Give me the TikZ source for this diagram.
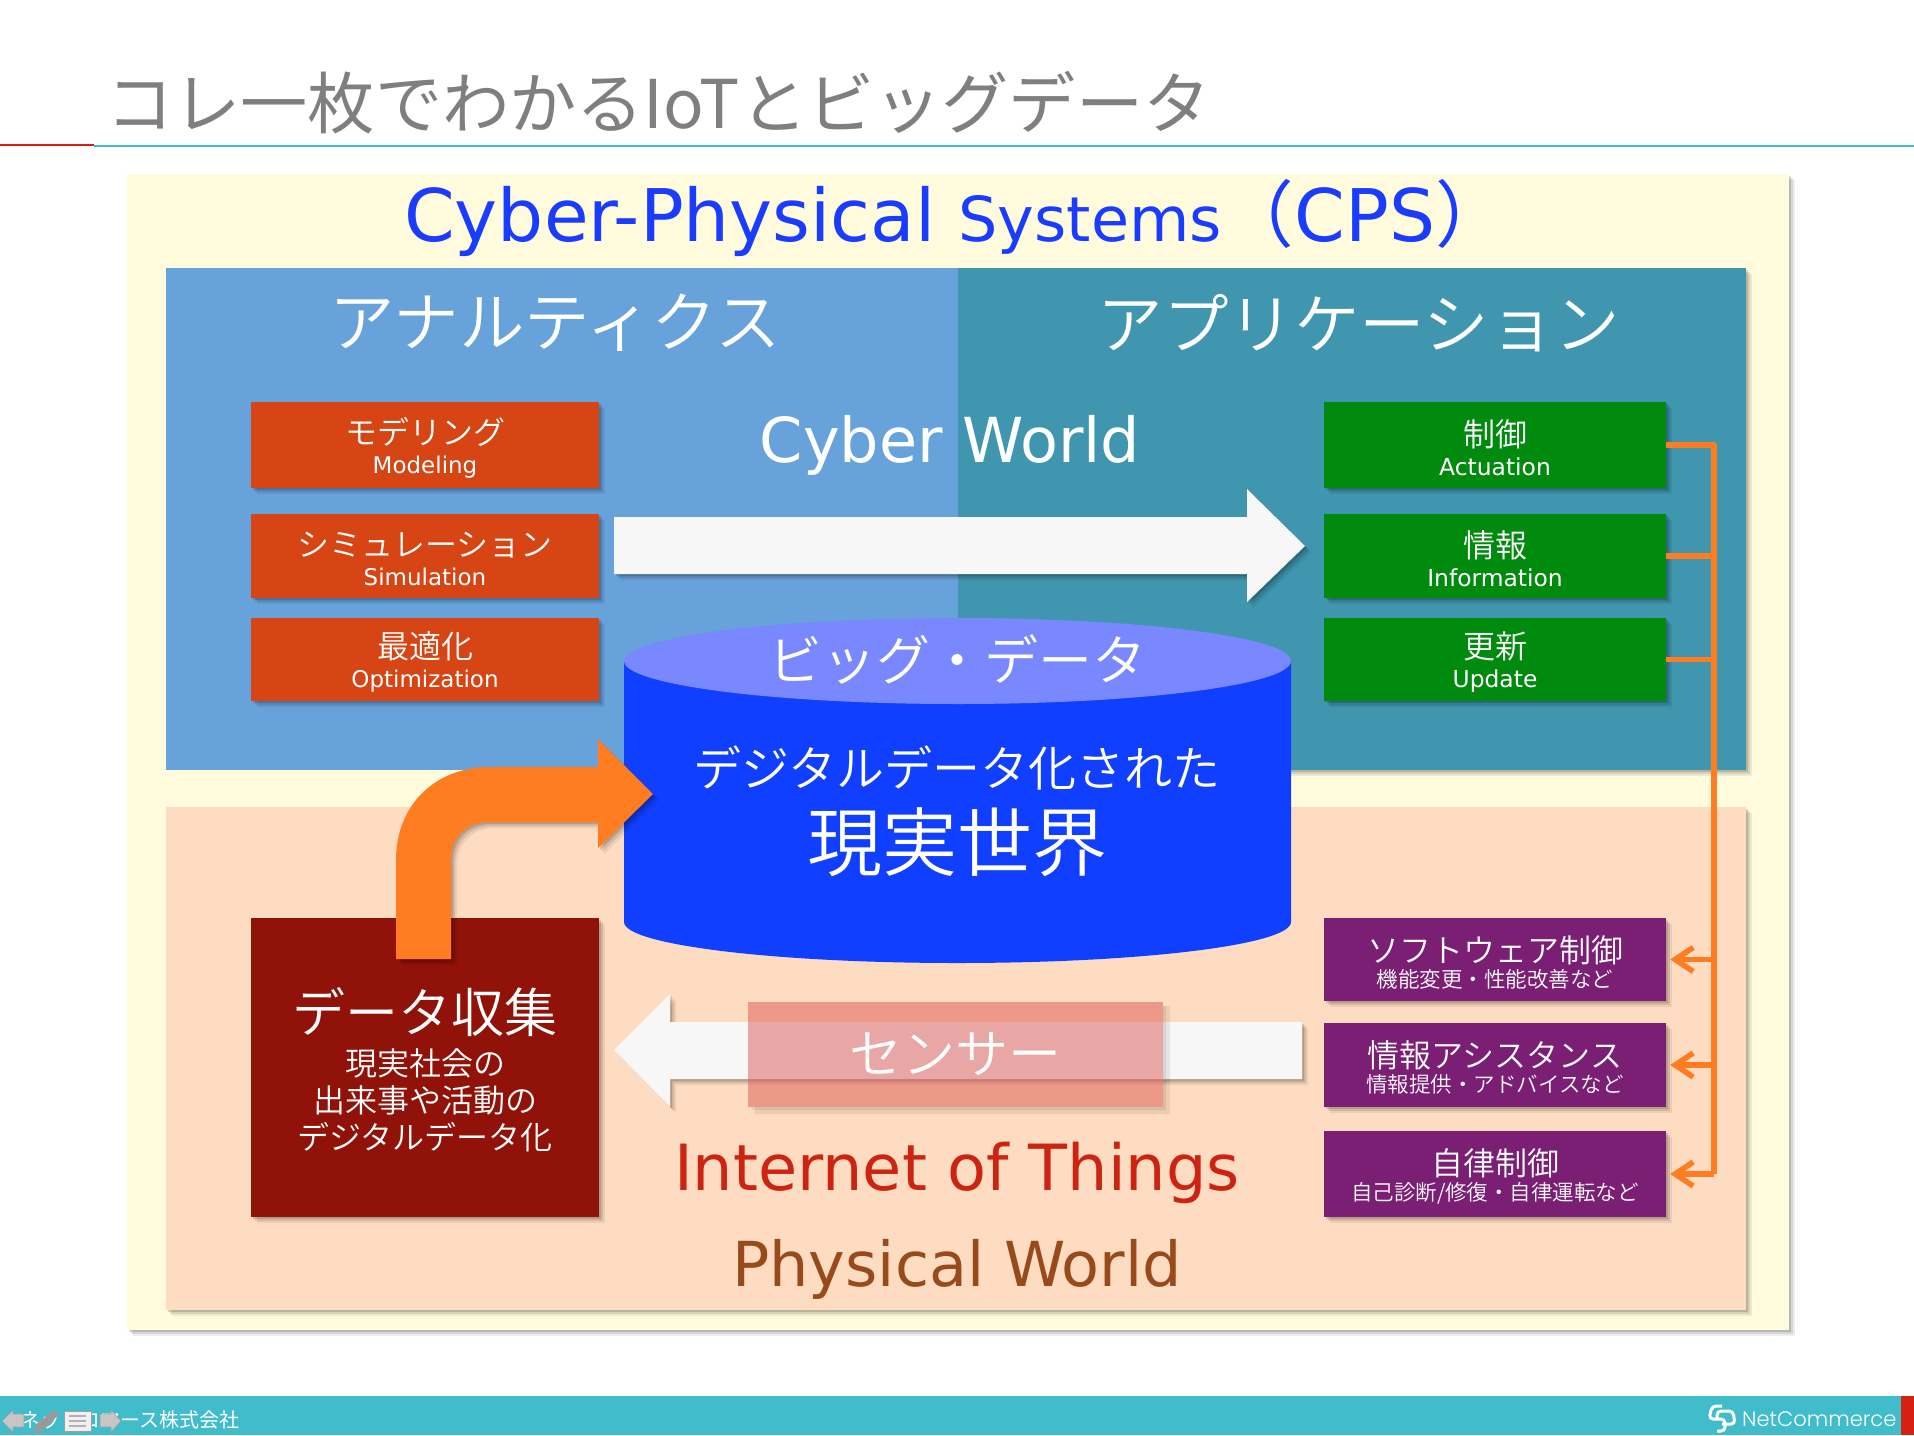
\documentclass[tikz,border=0pt]{standalone}
\usepackage{fontspec}
\usepackage{xcolor}
\usetikzlibrary{arrows.meta,shadows}
\setmainfont{DejaVu Sans}
\newfontfamily\cjk{Noto Sans CJK JP DemiLight}
\newfontfamily\cjkreg{Noto Sans CJK JP}
\newfontfamily\logofont{Poppins Light}
\newcommand{\fsz}[2]{\fontsize{#1}{#2}\selectfont}
\newcommand{\headline}[1]{\raisebox{-5pt}[\height][\depth]{#1}}
\definecolor{TitleGray}{RGB}{127, 127, 127}
\definecolor{BarTeal}{RGB}{64, 188, 203}
\definecolor{MarkRed}{RGB}{214, 32, 18}
\definecolor{SheetYellow}{RGB}{255, 251, 220}
\definecolor{CpsBlue}{RGB}{26, 60, 255}
\definecolor{PanelBlue}{RGB}{104, 162, 219}
\definecolor{PanelTeal}{RGB}{63, 150, 174}
\definecolor{PanelPeach}{RGB}{254, 220, 193}
\definecolor{BoxRed}{RGB}{214, 69, 19}
\definecolor{BoxGreen}{RGB}{0, 138, 14}
\definecolor{BoxPurple}{RGB}{123, 31, 117}
\definecolor{BoxDark}{RGB}{145, 18, 8}
\definecolor{DrumBlue}{RGB}{17, 63, 255}
\definecolor{DrumTop}{RGB}{122, 136, 255}
\definecolor{ArrowOrange}{RGB}{255, 124, 33}
\definecolor{ArrowWhite}{RGB}{247, 247, 247}
\definecolor{SensorRed}{RGB}{220, 93, 89}
\definecolor{IotRed}{RGB}{204, 36, 17}
\definecolor{PhysBrown}{RGB}{152, 74, 26}
\tikzset{
  softshadow/.style={drop shadow={shadow xshift=2pt,shadow yshift=-2pt,opacity=.14,fill=black},
    drop shadow={shadow xshift=4pt,shadow yshift=-4pt,opacity=.1,fill=black},
    drop shadow={shadow xshift=6pt,shadow yshift=-6pt,opacity=.07,fill=black}},
  itembox/.style={softshadow, text=white, inner sep=0pt, minimum width=348pt, align=center,
    font=\fsz{32}{34}\cjk},
  bigtext/.style={white, inner sep=0pt, font=\fsz{65.5}{70}\cjk},
  feedline/.style={ArrowOrange, line width=5.5pt},
  feedarrow/.style={feedline, -{Straight Barb[length=18pt,width=24pt]}, shorten >=4pt},
  navicon/.style={fill=#1, draw=gray!75, line width=.6pt}
}
\begin{document}
\begin{tikzpicture}[x=1pt,y=-1pt]
  \useasboundingbox (0,0) rectangle (1914,1435);
  % Title
  \node[anchor=west, inner sep=0pt, TitleGray, font=\fsz{67.2}{70}\cjkreg] (title) at (106,103) {コレ一枚でわかるIoTとビッグデータ};
  \fill[MarkRed] (0,143.5) rectangle (94,145.5);
  \fill[BarTeal] (94,145) rectangle (1914,147);

  % Footer
  \fill[BarTeal] (0,1396) rectangle (1914,1435);
  \fill[MarkRed] (1901,1396) rectangle (1914,1435);
  \node[anchor=west, inner sep=0pt, white, font=\fsz{20}{24}\cjkreg] (company) at (20,1420) {ネットコマース株式会社};
  \node[anchor=west, inner sep=0pt, white, font=\fsz{21}{30}\logofont] (logo) at (1742,1419) {NetCommerce};
  \draw[white, line width=3pt, rounded corners=4pt] (1722,1406) -- (1712,1406) -- (1709,1419) -- (1725,1419) -- (1725,1431) -- (1717,1431);
  \draw[white, line width=3pt, rounded corners=4pt] (1717,1419) -- (1717,1411) -- (1733,1411) -- (1735,1424) -- (1722,1424);
  % viewer icons
  \filldraw[navicon=gray!45] (24,1414) -- (13,1414) -- (13,1410) -- (2,1421) -- (13,1432) -- (13,1427) -- (24,1427) -- cycle;
  \filldraw[navicon=gray!80] (55,1410) -- (59,1414) -- (43,1430) -- (34,1433) -- (37,1424) -- cycle;
  \filldraw[navicon=gray!12] (64,1411) rectangle (91,1431);
  \foreach \yy in {1416,1421,1426} {
    \draw[gray!60, line width=1.5pt] (69,\yy) -- (86,\yy);
  }
  \filldraw[navicon=gray!45] (100,1414) -- (111,1414) -- (111,1410) -- (121,1421) -- (111,1432) -- (111,1427) -- (100,1427) -- cycle;

  % Sheet
  \node[softshadow, fill=SheetYellow, inner sep=0pt, minimum width=1662pt, minimum height=1156pt] (sheet) at (958,752) {};
  \node[inner sep=0pt, CpsBlue, font=\fsz{72.6}{80}] (cps) at (956,218) {Cyber-Physical {\fsz{62}{80}Systems}{\cjkreg （}CPS{\cjkreg ）}};

  % Cyber panels
  \fill[PanelTeal, softshadow] (958,268) rectangle (1746,770);
  \node[fill=PanelBlue, inner sep=0pt, minimum width=792pt, minimum height=502pt] (analytics) at (562,519) {};
  \node[bigtext] (analyticstext) at (555,323) {アナルティクス};
  \node[bigtext] (appstext) at (1359,323) {アプリケーション};
  \node[white, inner sep=0pt, font=\fsz{62}{70}] (cyber) at (950,445) {Cyber World};

  % Physical panel
  \node[softshadow, fill=PanelPeach, inner sep=0pt, minimum width=1580pt, minimum height=503pt] (physical) at (956,1058.5) {};
  \node[IotRed, inner sep=0pt, font=\fsz{63.7}{70}] (iot) at (957,1173) {Internet of Things};
  \node[PhysBrown, inner sep=0pt, font=\fsz{62}{70}] (phys) at (957,1269) {Physical World};

  % White flow arrows
  \fill[ArrowWhite, softshadow] (614,517) -- (1247,517) -- (1247,489) -- (1305,546) -- (1247,602) -- (1247,574) -- (614,574) -- cycle;
  \fill[ArrowWhite, softshadow] (1302,1022) -- (670,1022) -- (670,994) -- (614,1050) -- (670,1107) -- (670,1079) -- (1302,1079) -- cycle;

  % Analytics boxes
  \node[itembox, fill=BoxRed, minimum height=86pt] (model) at (425,445) {\headline{モデリング}\\{\fsz{23}{34}\rmfamily Modeling}};
  \node[itembox, fill=BoxRed, minimum height=84pt] (simul) at (425,556) {\headline{シミュレーション}\\{\fsz{23}{34}\rmfamily Simulation}};
  \node[itembox, fill=BoxRed, minimum height=83pt] (optim) at (425,659.5) {\headline{最適化}\\{\fsz{23}{34}\rmfamily Optimization}};

  % Application boxes
  \node[itembox, fill=BoxGreen, minimum width=342pt, minimum height=86pt] (act) at (1495,445) {\headline{制御}\\{\fsz{23.4}{34}\rmfamily Actuation}};
  \node[itembox, fill=BoxGreen, minimum width=342pt, minimum height=84pt] (info) at (1495,556) {\headline{情報}\\{\fsz{23.4}{34}\rmfamily Information}};
  \node[itembox, fill=BoxGreen, minimum width=342pt, minimum height=83pt] (update) at (1495,659.5) {\headline{更新}\\{\fsz{23.4}{34}\rmfamily Update}};

  % Device boxes
  \node[itembox, fill=BoxPurple, minimum width=342pt, minimum height=83pt, font=\fsz{32}{30}\cjk] (soft) at (1495,959.5) {\headline{ソフトウェア制御}\\{\fsz{21.5}{30}\selectfont 機能変更・性能改善など}};
  \node[itembox, fill=BoxPurple, minimum width=342pt, minimum height=84pt, font=\fsz{32}{30}\cjk] (assist) at (1495,1065) {\headline{情報アシスタンス}\\{\fsz{21.5}{30}\selectfont 情報提供・アドバイスなど}};
  \node[itembox, fill=BoxPurple, minimum width=342pt, minimum height=86pt, font=\fsz{32}{30}\cjk] (auto) at (1495,1174) {\headline{自律制御}\\{\fsz{21.5}{30}\selectfont 自己診断/修復・自律運転など}};

  % Feedback lines
  \coordinate (bus) at (1714,0);
  \draw[feedline, line join=round] (act.east) -- (act.east -| bus) -- (auto.east -| bus);
  \draw[feedline] (info.east) -- (info.east -| bus);
  \draw[feedline] (update.east) -- (update.east -| bus);
  \draw[feedarrow] (soft.east -| bus) -- (soft.east);
  \draw[feedarrow] (assist.east -| bus) -- (assist.east);
  \draw[feedarrow] (auto.east -| bus) -- (auto.east);

  % Big data drum
  \fill[DrumBlue] (624,661) -- (624,922) arc[start angle=180, end angle=360, x radius=333.5pt, y radius=41pt] -- (1291,661) -- cycle;
  \fill[DrumTop] (957.5,661) ellipse [x radius=333.5pt, y radius=43pt];
  \node[white, inner sep=0pt, font=\fsz{54}{60}\cjk] (bigdata) at (957,659) {ビッグ・データ};
  \node[white, inner sep=0pt, font=\fsz{48}{54}\cjk] (digital) at (957,768) {デジタルデータ化された};
  \node[white, inner sep=0pt, font=\fsz{75}{80}\cjk] (real) at (957,842) {現実世界};

  % Data collection
  \node[softshadow, fill=BoxDark, text=white, inner sep=0pt, minimum width=348pt, minimum height=299pt] (collect) at (425,1067.5) {};
  \node[white, inner sep=0pt, font=\fsz{53}{60}\cjk] (collecttitle) at (425,1012) {データ収集};
  \node[white, inner sep=0pt, align=center, font=\fsz{32}{37}\cjk] (collecttext) at (425,1100) {現実社会の\\出来事や活動の\\デジタルデータ化};

  % Sensor band
  \fill[black, opacity=.07] (1163,1006) rectangle (1170,1114) (755,1107) rectangle (1163,1114);
  \fill[black, opacity=.07] (1163,1006) rectangle (1166,1110) (752,1107) rectangle (1163,1110);
  \node[fill=SensorRed, fill opacity=.52, text opacity=1, text=white, inner sep=0pt, minimum width=415pt, minimum height=105pt, font=\fsz{53}{60}\cjk] (sensor) at (955.5,1054.5) {\raisebox{-4pt}{センサー}};

  % Upload arrow
  \fill[ArrowOrange, softshadow] (396,959) -- (396,860) .. controls (396,805) and (435,767) .. (490,767) -- (598,767) -- (598,739) -- (653,794) -- (598,848) -- (598,822) -- (490,822) .. controls (465,822) and (451,838) .. (451,860) -- (451,959) -- cycle;
\end{tikzpicture}
\end{document}
